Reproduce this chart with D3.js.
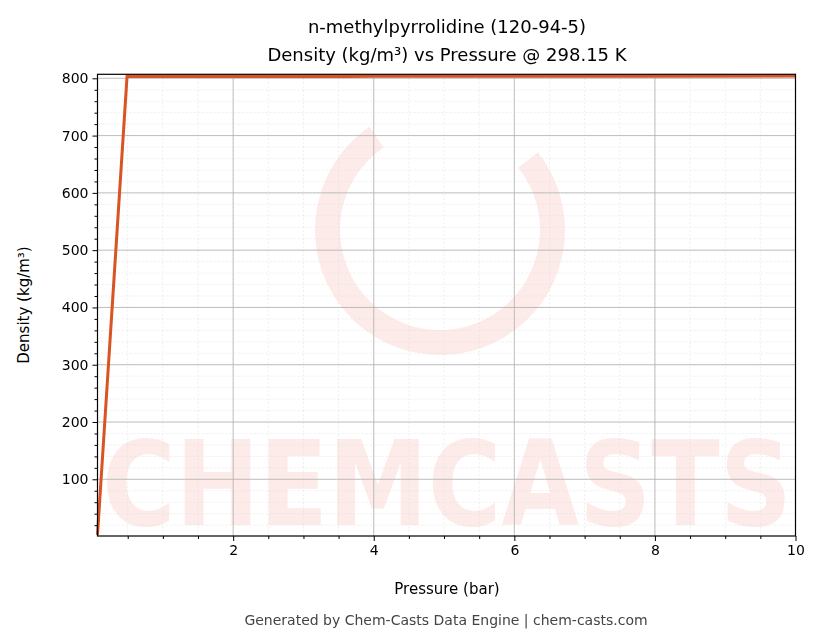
<!DOCTYPE html>
<html><head><meta charset="utf-8">
<script src="https://cdn.jsdelivr.net/npm/d3@7"></script>
<style>body{margin:0;background:#fff}svg{font-family:"DejaVu Sans",sans-serif}</style>
</head><body>
<svg id="c" width="823" height="644"></svg>
<script>
const pressure = [0.07, 0.49, 1, 2, 4, 6, 8, 10];
const density = [3, 803, 803.1, 803.2, 803.4, 803.6, 803.8, 804];
const xTicks = [2, 4, 6, 8, 10];
const yTicks = [100, 200, 300, 400, 500, 600, 700, 800];

const svg = d3.select("#c");
const L = 97.5, R = 795.5, T = 74.3, B = 536;
const x = d3.scaleLinear().domain([0.07, 10]).range([L, R]);
const y = d3.scaleLinear().domain([1, 807]).range([B, T]);

// watermark
const wm = svg.append("g").attr("fill", "#fde9e7").attr("opacity", 0.9);
wm.append("text").attr("x", 447).attr("y", 525).attr("text-anchor", "middle")
  .style("font-size", "118px").attr("font-weight", "bold").attr("textLength", 690)
  .attr("lengthAdjust", "spacingAndGlyphs").text("CHEMCASTS");
wm.append("path").attr("d", d3.arc()({innerRadius: 100, outerRadius: 125, startAngle: 0.9, endAngle: 2*Math.PI - 0.6}))
  .attr("transform", "translate(440,230)");

// grid
const g = svg.append("g");
const xMinor = d3.range(0.5, 10.01, 0.5), yMinor = d3.range(20, 807, 20);
g.selectAll(".xm").data(xMinor).join("line").attr("x1", d => x(d)).attr("x2", d => x(d))
  .attr("y1", T).attr("y2", B).attr("stroke", "#ddd").attr("stroke-width", 0.5).attr("stroke-dasharray", "2,2");
g.selectAll(".ym").data(yMinor).join("line").attr("y1", d => y(d)).attr("y2", d => y(d))
  .attr("x1", L).attr("x2", R).attr("stroke", "#ddd").attr("stroke-width", 0.5).attr("stroke-dasharray", "2,2");
g.selectAll(".xM").data(xTicks).join("line").attr("x1", d => x(d)).attr("x2", d => x(d))
  .attr("y1", T).attr("y2", B).attr("stroke", "#b0b0b0").attr("stroke-width", 0.8);
g.selectAll(".yM").data(yTicks).join("line").attr("y1", d => y(d)).attr("y2", d => y(d))
  .attr("x1", L).attr("x2", R).attr("stroke", "#b0b0b0").attr("stroke-width", 0.8);

// line
svg.append("path").datum(pressure.map((p, i) => [p, density[i]]))
  .attr("d", d3.line().x(d => x(d[0])).y(d => y(d[1])))
  .attr("fill", "none").attr("stroke", "#d95323").attr("stroke-width", 3);

// axes
svg.append("g").attr("transform", `translate(0,${B})`)
  .call(d3.axisBottom(x).tickValues(xMinor.filter(d => !xTicks.includes(d))).tickSize(3).tickFormat(""));
svg.append("g").attr("transform", `translate(${L},0)`)
  .call(d3.axisLeft(y).tickValues(yMinor.filter(d => !yTicks.includes(d))).tickSize(3).tickFormat(""));
svg.append("g").attr("transform", `translate(0,${B})`)
  .call(d3.axisBottom(x).tickValues(xTicks).tickSize(5).tickPadding(4));
svg.append("g").attr("transform", `translate(${L},0)`)
  .call(d3.axisLeft(y).tickValues(yTicks).tickSize(5).tickPadding(4));
svg.selectAll(".domain").remove();
svg.selectAll(".tick text").style("font-size", "14px").attr("fill", "#000").style("font-family", "DejaVu Sans");
svg.selectAll(".tick line").attr("stroke", "#000");
svg.append("rect").attr("x", L).attr("y", T).attr("width", R - L).attr("height", B - T)
  .attr("fill", "none").attr("stroke", "#000").attr("stroke-width", 1.2);

// texts
const t = (xx, yy, s, txt, fill) => svg.append("text").attr("x", xx).attr("y", yy).attr("text-anchor", "middle")
  .style("font-size", s + "px").attr("fill", fill || "#000").text(txt);
t(447, 33, 18, "n-methylpyrrolidine (120-94-5)");
t(447, 61, 18, "Density (kg/m³) vs Pressure @ 298.15 K");
t(447, 594, 15, "Pressure (bar)");
t(446, 625, 14, "Generated by Chem-Casts Data Engine | chem-casts.com", "#444");
svg.append("text").attr("transform", "translate(29,305) rotate(-90)").attr("text-anchor", "middle")
  .style("font-size", "15px").text("Density (kg/m³)");
</script></body></html>
